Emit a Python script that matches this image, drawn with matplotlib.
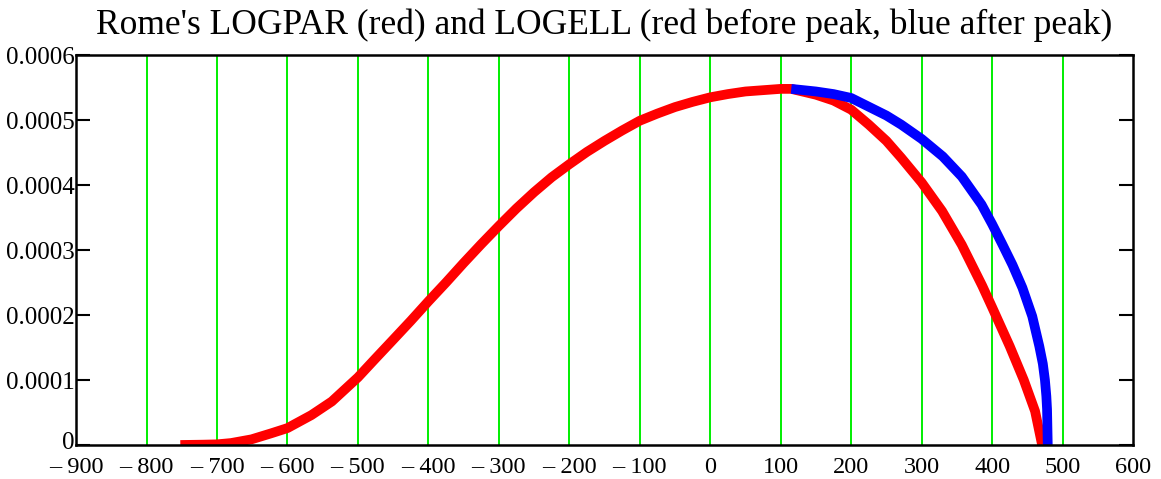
import numpy as np
import matplotlib
matplotlib.use("Agg")
import matplotlib.pyplot as plt
import matplotlib.transforms as mtransforms

# LOGPAR curve (red)
red_x = [-752, -720, -700, -680, -651, -623, -600, -566, -537, -500, -476, -450,
         -425, -400, -375, -350, -325, -300, -275, -250, -225, -200, -175, -150,
         -125, -100, -75, -50, -25, 0, 25, 50, 75, 100, 115, 150, 175, 200, 225,
         250, 271, 300, 329, 357, 386, 400, 425, 445, 461, 471]
red_y = [0.0, 0.0000005, 0.000001, 0.000003, 0.0000087, 0.000018, 0.000026,
         0.000046, 0.000067, 0.000104, 0.000132, 0.000162, 0.000191, 0.000221,
         0.00025, 0.00028, 0.000309, 0.000337, 0.000364, 0.000389, 0.000412,
         0.000432, 0.000451, 0.000468, 0.000484, 0.000499, 0.00051, 0.00052,
         0.000528, 0.000535, 0.00054, 0.000544, 0.000546, 0.000548, 0.000548,
         0.000539, 0.00053, 0.000516, 0.000493, 0.000468, 0.000442, 0.000404,
         0.00036, 0.000308, 0.000245, 0.000212, 0.000152, 0.0001, 0.000052, 0.0]

# LOGELL after the peak (blue)
blue_x = [115, 150, 175, 200, 250, 271, 300, 330, 357, 385, 400, 414, 429, 443,
          457, 467, 472, 475, 477, 478, 479]
blue_y = [0.000548, 0.000544, 0.00054, 0.000534, 0.000507, 0.000493, 0.000471,
          0.000444, 0.000413, 0.00037, 0.00034, 0.00031, 0.000277, 0.000242,
          0.000198, 0.000152, 0.000125, 0.0001, 0.000075, 0.000055, 0.0]

grid_x = [-800, -700, -600, -500, -400, -300, -200, -100, 0, 100, 200, 300, 400, 500]
xticks = [-900, -800, -700, -600, -500, -400, -300, -200, -100, 0, 100, 200, 300, 400, 500, 600]
yticks = [0, 0.0001, 0.0002, 0.0003, 0.0004, 0.0005, 0.0006]

plt.rcParams['font.family'] = ['Liberation Serif', 'DejaVu Serif']

fig = plt.figure(figsize=(11.61, 4.79), dpi=100)
ax = fig.add_axes([0.0655, 0.071, 0.9104, 0.814])

for g in grid_x:
    ax.axvline(g, color='#00ee00', lw=1.4, zorder=1)

ax.plot(red_x, red_y, color='#ff0000', lw=7, solid_capstyle='butt',
        solid_joinstyle='round', zorder=3)
ax.plot(blue_x, blue_y, color='#0000ff', lw=7, solid_capstyle='butt',
        solid_joinstyle='round', zorder=4)

ax.set_xlim(-900, 600)
ax.set_ylim(0, 0.0006)
ax.set_xticks(xticks)
ax.set_xticklabels([('\u2013 %d' % -v) if v < 0 else str(v) for v in xticks])
ax.set_yticks(yticks)
ax.set_yticklabels(['0'] + ['%.4f' % v for v in yticks[1:]])
ax.tick_params(axis='x', length=0, pad=9, labelsize=17.5)
ax.tick_params(axis='y', direction='in', length=10, width=1.5, pad=1,
               labelsize=18, right=True)
for s in ax.spines.values():
    s.set_linewidth(1.8)
    s.set_zorder(5)

# nudge the bottom "0" up a little so it clears the first x label
zero_lab = ax.get_yticklabels()[0]
zero_lab.set_transform(zero_lab.get_transform() +
                       mtransforms.ScaledTranslation(0, 3 / 72, fig.dpi_scale_trans))

ax.set_title("Rome's LOGPAR (red) and LOGELL (red before peak, blue after peak)",
             fontsize=25.5, pad=15)

fig.savefig('out.png', dpi=100)
